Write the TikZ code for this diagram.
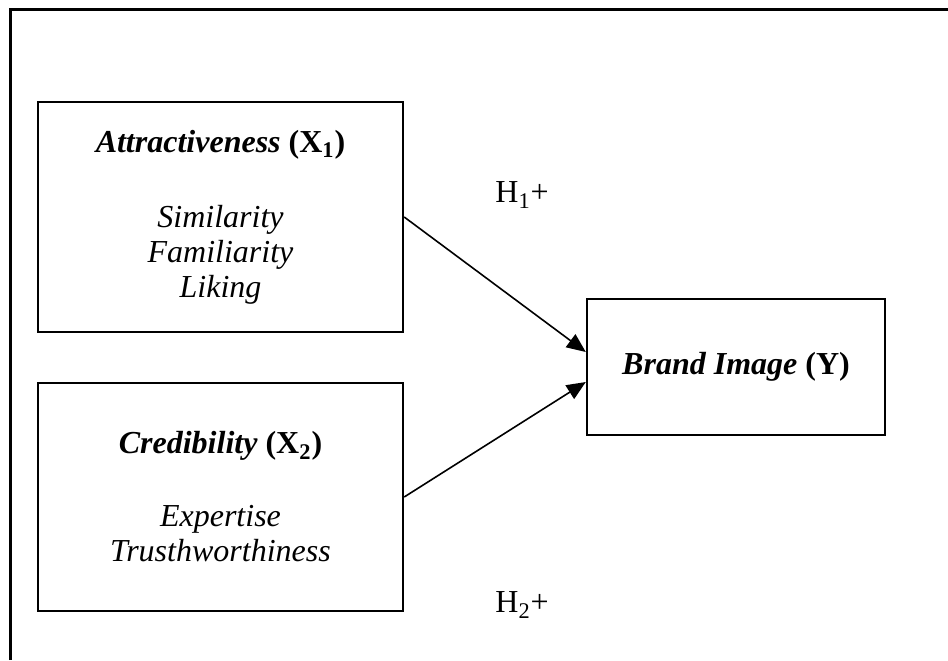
\documentclass[tikz,border=0pt]{standalone}
\usepackage{fontspec}
\setmainfont{Liberation Serif}
\usepackage{xcolor}
\usepackage{tikz}
\usetikzlibrary{%
      arrows.meta,%
      positioning%
  }
\tikzset{
  varbox/.style={draw=black, line width=1.2pt, align=center, inner sep=0pt,
    font=\fontsize{16}{17.5}\selectfont},
  hyplabel/.style={anchor=west, inner sep=0pt, font=\fontsize{16}{17.5}\selectfont},
  hyparrow/.style={line width=0.8pt, -{Triangle[length=9.5pt,width=8pt]}}
}

\begin{document}
\begin{tikzpicture}[x=0.5pt,y=-0.5pt]
    \useasboundingbox (0,0) rectangle (948,660);
    % frame, open on the right and at the bottom
    \draw[line width=1.5pt] (10,660) -- (10,9) -- (948,9);
    % independent variables
    \node[varbox, minimum width=182.5pt, minimum height=115pt] (attract) at (220.5,217)
      {\textbf{\textit{Attractiveness} (X\textsubscript{1})}\\[20pt]
       \textit{Similarity}\\ \textit{Familiarity}\\ \textit{Liking}};
    \node[varbox, minimum width=182.5pt, minimum height=114pt] (cred) at (220.5,497)
      {\textbf{\textit{Credibility} (X\textsubscript{2})}\\[19pt]
       \textit{Expertise}\\ \textit{Trusthworthiness}};
    % dependent variable
    \node[varbox, minimum width=149pt, minimum height=68pt] (brand) at (736,367)
      {\textbf{\textit{Brand Image} (Y)}};
    % hypotheses
    \draw[hyparrow] (attract.east) -- ([yshift=7.5pt]brand.west);
    \draw[hyparrow] (cred.east) -- ([yshift=-7.5pt]brand.west);
    \node[hyplabel] (h1) at (495,195) {H\textsubscript{1}+};
    \node[hyplabel] (h2) at (495,605) {H\textsubscript{2}+};
\end{tikzpicture}
\end{document}
